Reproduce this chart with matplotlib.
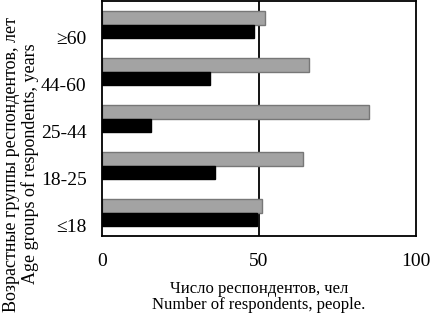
import matplotlib.pyplot as plt
import numpy as np

plt.rcParams['font.family'] = ['Liberation Serif', 'DejaVu Serif']

groups = ['≤18', '18-25', '25-44', '44-60', '≥60']
gray_vals = [51, 64, 85, 66, 52]
black_vals = [49.5, 36, 15.5, 34.5, 48.5]

W, H = 430, 313
fig = plt.figure(figsize=(W / 100, H / 100), dpi=100)
ax = fig.add_axes([102 / W, 1 - 236 / H, 314 / W, 235 / H])

y = np.arange(len(groups))
h = 0.28
ax.barh(y + h / 2, gray_vals, height=h, color='#a3a3a3', edgecolor='#777777', linewidth=1)
ax.barh(y - h / 2, black_vals, height=h, color='black', edgecolor='black', linewidth=1)
ax.axvline(50, color='black', linewidth=1.3, zorder=0)

ax.set_xlim(0, 100)
ax.set_ylim(-0.5, 4.5)
ax.set_xticks([0, 50, 100])
ax.set_yticks(y - 0.27)
ax.set_yticklabels(groups)
ax.tick_params(length=0, labelsize=14)
ax.tick_params(axis='y', pad=11)
ax.tick_params(axis='x', pad=12)
for s in ax.spines.values():
    s.set_linewidth(1.3)

fig.text(259 / W, 1 - 297 / H, 'Число респондентов, чел\nNumber of respondents, people.',
         ha='center', va='center', multialignment='center', fontsize=12, linespacing=0.95)
fig.text(21 / W, 1 - 164 / H, 'Возрастные группы респондентов, лет\nAge groups of respondents, years',
         rotation=90, ha='center', va='center', multialignment='center', fontsize=13, linespacing=1.1)

fig.savefig('out.png', dpi=100)
